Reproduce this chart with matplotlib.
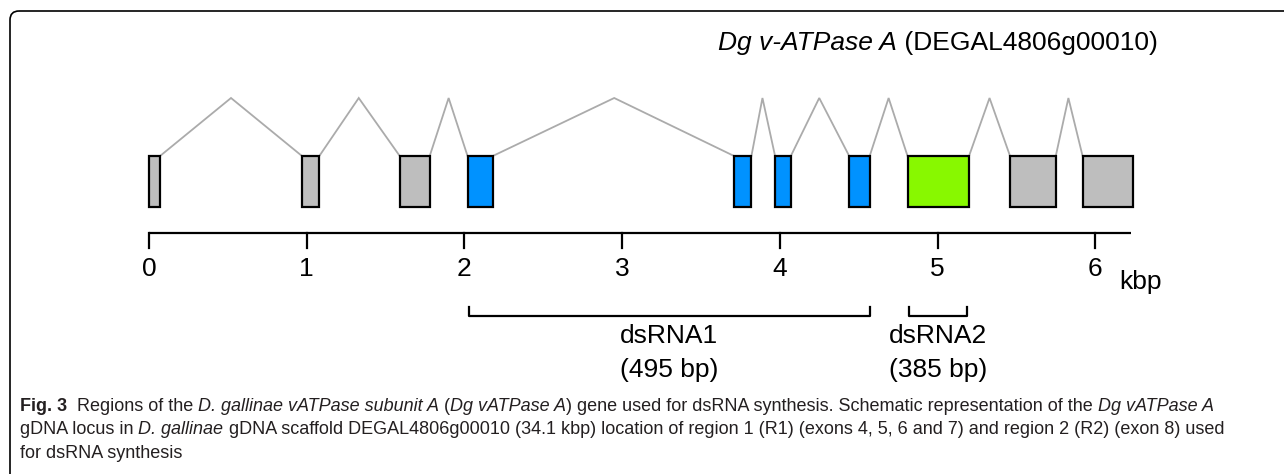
import matplotlib
matplotlib.use("Agg")
import matplotlib.pyplot as plt
from matplotlib.patches import Rectangle, FancyBboxPatch
from matplotlib.transforms import Affine2D
from matplotlib import font_manager

# ---------------------------------------------------------------------------
# Data (kbp along the gene)
# ---------------------------------------------------------------------------
exon_start = [0.00, 0.97, 1.59, 2.02, 3.71, 3.97, 4.44, 4.81, 5.46, 5.92]
exon_end   = [0.07, 1.08, 1.78, 2.18, 3.82, 4.07, 4.57, 5.20, 5.75, 6.24]
exon_kind  = ["other", "other", "other", "r1", "r1", "r1", "r1", "r2", "other", "other"]
intron_peak = [0.52, 1.33, 1.90, 2.95, 3.89, 4.25, 4.69, 5.33, 5.83]

axis_end = 6.23
axis_ticks = [0, 1, 2, 3, 4, 5, 6]
axis_unit = "kbp"

regions = [(2.03, 4.57), (4.82, 5.19)]
region_labels = ["dsRNA1\n(495 bp)", "dsRNA2\n(385 bp)"]

title_italic = "Dg v-ATPase A"
title_plain = " (DEGAL4806g00010)"

caption = [
    [("Fig. 3", "bold"), ("  Regions of the ", "normal"),
     ("D. gallinae vATPase subunit A", "italic"), (" (", "normal"),
     ("Dg vATPase A", "italic"),
     (") gene used for dsRNA synthesis. Schematic representation of the ", "normal"),
     ("Dg vATPase A", "italic")],
    [("gDNA locus in ", "normal"), ("D. gallinae", "italic"),
     (" gDNA scaffold DEGAL4806g00010 (34.1 kbp) location of region 1 (R1) "
      "(exons 4, 5, 6 and 7) and region 2 (R2) (exon 8) used", "normal")],
    [("for dsRNA synthesis", "normal")],
]

COLORS = {"other": "#BEBEBE", "r1": "#0092FF", "r2": "#88F800"}

# ---------------------------------------------------------------------------
# Layout (pixels from top-left)
# ---------------------------------------------------------------------------
W, H = 1284, 474
X0, KBP_PX = 149, 157.7
EXON_TOP, EXON_BOT, PEAK_Y = 156, 207, 98
AXIS_Y, TICK_LEN = 233, 15

names = {f.name for f in font_manager.fontManager.ttflist}
NARROW = "Liberation Sans Narrow" if "Liberation Sans Narrow" in names else "Liberation Sans"
FS = 19

fig = plt.figure(figsize=(W / 100, H / 100), dpi=100)
px = Affine2D().scale(1, -1).translate(0, H)   # top-left pixel coordinates

ax = fig.add_axes([0, 0, 1, 1])
ax.set_xlim(-X0 / KBP_PX, (W - X0) / KBP_PX)
ax.set_ylim(H, 0)
ax.axis("off")

# introns
for i, pk in enumerate(intron_peak):
    ax.plot([exon_end[i], pk, exon_start[i + 1]], [EXON_TOP, PEAK_Y, EXON_TOP],
            color="#ABABAB", lw=1.3, zorder=1, solid_joinstyle="miter")

# exons
for s, e, k in zip(exon_start, exon_end, exon_kind):
    ax.add_patch(Rectangle((s, EXON_TOP), e - s, EXON_BOT - EXON_TOP,
                           facecolor=COLORS[k], edgecolor="black", lw=1.6, zorder=2))

# scale axis
ax.plot([0, axis_end], [AXIS_Y, AXIS_Y], color="black", lw=1.6, solid_capstyle="butt")
for t in axis_ticks:
    ax.plot([t, t], [AXIS_Y, AXIS_Y + TICK_LEN], color="black", lw=1.6)
    ax.text(t, 276, str(t), ha="center", va="baseline", fontsize=FS, family=NARROW)
ax.text(axis_ticks[-1] + 0.15, 289, axis_unit, ha="left", va="baseline",
        fontsize=FS, family=NARROW)

# dsRNA brackets
for (a, b), lab in zip(regions, region_labels):
    ax.plot([a, a, b, b], [307, 316, 316, 307], color="black", lw=1.6)
    top, bot = lab.split("\n")
    ax.text((a + b) / 2, 343, top, ha="center", va="baseline", fontsize=FS, family=NARROW)
    ax.text((a + b) / 2, 377, bot, ha="center", va="baseline", fontsize=FS, family=NARROW)

renderer = fig.canvas.get_renderer()


def run_width(s, **kw):
    # width incl. spaces: measure between two bars
    a = fig.text(0, 0, "|" + s + "|", **kw)
    b = fig.text(0, 0, "||", **kw)
    w = a.get_window_extent(renderer).width - b.get_window_extent(renderer).width
    a.remove()
    b.remove()
    return w


def draw_runs(x, y, runs, **kw):
    for s, style in runs:
        st = {"fontstyle": "italic" if style == "italic" else "normal",
              "fontweight": "bold" if style == "bold" else "normal"}
        fig.text(x, y, s, transform=px, va="baseline", ha="left", **st, **kw)
        x += run_width(s, **st, **kw)


# title
draw_runs(718, 50, [(title_italic, "italic"), (title_plain, "normal")],
          fontsize=FS, family=NARROW, color="black")

# caption
for i, line in enumerate(caption):
    draw_runs(20, 411 + i * 23.5, line, fontsize=13, family=NARROW, color="#231F20")

# frame with rounded top-left corner
fig.add_artist(FancyBboxPatch((10, 11), 2000, 1000, transform=px,
                              boxstyle="round,pad=0,rounding_size=9",
                              facecolor="none", edgecolor="black", lw=1.2))

fig.savefig("out.png", dpi=100)
